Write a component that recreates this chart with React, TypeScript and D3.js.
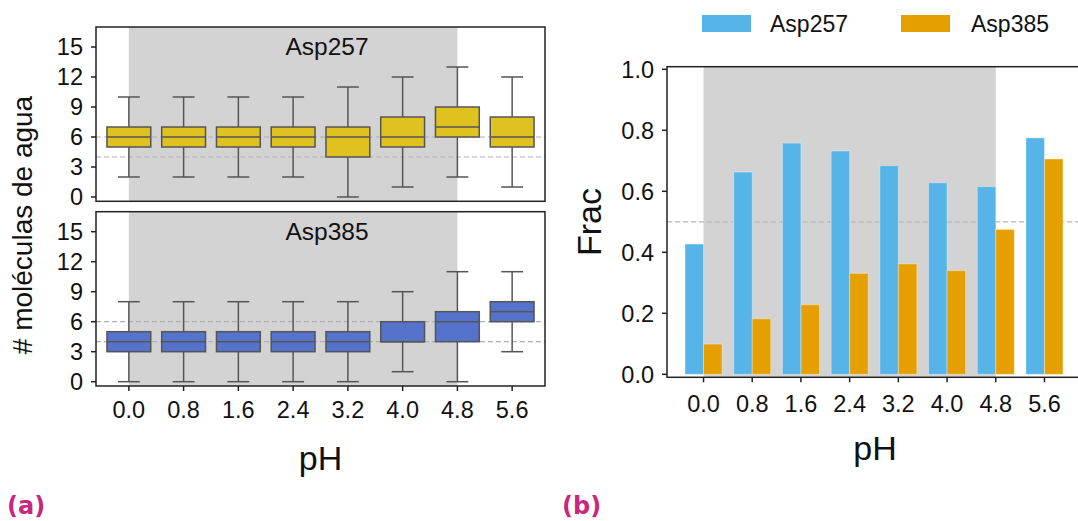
import React from "react";
import * as d3 from "d3";

const categories = ["0.0", "0.8", "1.6", "2.4", "3.2", "4.0", "4.8", "5.6"];

// Box plot stats: [whisker low, q1, median, q3, whisker high]
const asp257Low = [2, 2, 2, 2, 0, 1, 2, 1];
const asp257Q1 = [5, 5, 5, 5, 4, 5, 6, 5];
const asp257Med = [6, 6, 6, 6, 6, 6, 7, 6];
const asp257Q3 = [7, 7, 7, 7, 7, 8, 9, 8];
const asp257High = [10, 10, 10, 10, 11, 12, 13, 12];

const asp385Low = [0, 0, 0, 0, 0, 1, 0, 3];
const asp385Q1 = [3, 3, 3, 3, 3, 4, 4, 6];
const asp385Med = [4, 4, 4, 4, 4, 4, 6, 7];
const asp385Q3 = [5, 5, 5, 5, 5, 6, 7, 8];
const asp385High = [8, 8, 8, 8, 8, 9, 11, 11];

const boxTicks = [0, 3, 6, 9, 12, 15];
const refLines = [4, 6];

// Fraction bars
const fracAsp257 = [0.427, 0.663, 0.758, 0.732, 0.684, 0.628, 0.615, 0.775];
const fracAsp385 = [0.099, 0.182, 0.228, 0.331, 0.362, 0.34, 0.475, 0.706];
const fracTicks = [0, 0.2, 0.4, 0.6, 0.8, 1.0];
const fracRef = 0.5;
const shadeFrom = "0.0";
const shadeTo = "4.8";

const FONT = "'Liberation Sans', Arial, Helvetica, sans-serif";
const YELLOW = "#dfc120";
const BLUE = "#5573cd";
const SKY = "#56b4e9";
const ORANGE = "#e69f00";
const SHADE = "#d3d3d3";
const EDGE = "#555555";
const SPINE = "#222222";
const MAGENTA = "#c92680";

type BoxPanelProps = {
  top: number;
  bottom: number;
  title: string;
  color: string;
  low: number[];
  q1: number[];
  med: number[];
  q3: number[];
  high: number[];
  showX: boolean;
};

const left = 96;
const right = 545;
const xBox = d3.scalePoint<string>().domain(categories).range([left, right]).padding(0.6);

function BoxPanel(p: BoxPanelProps) {
  const y = d3.scaleLinear().domain([-0.43, 17]).range([p.bottom, p.top]);
  const step = xBox.step();
  const bw = step * 0.8;
  const cw = step * 0.4;
  const sx0 = xBox(shadeFrom)!;
  const sx1 = xBox(shadeTo)!;
  return (
    <g>
      <rect x={left} y={p.top} width={right - left} height={p.bottom - p.top} fill="white" />
      <rect x={sx0} y={p.top} width={sx1 - sx0} height={p.bottom - p.top} fill={SHADE} />
      {refLines.map((v) => (
        <line key={v} x1={left} x2={right} y1={y(v)} y2={y(v)} stroke="#b0b0b0" strokeWidth={1.2} strokeDasharray="5,3" />
      ))}
      <text x={327} y={y(14.2)} textAnchor="middle" fontFamily={FONT} fontSize={24.5} fill="#111">
        {p.title}
      </text>
      {categories.map((c, i) => {
        const cx = xBox(c)!;
        return (
          <g key={c}>
            <line x1={cx} x2={cx} y1={y(p.low[i])} y2={y(p.q1[i])} stroke={EDGE} strokeWidth={1.5} />
            <line x1={cx} x2={cx} y1={y(p.q3[i])} y2={y(p.high[i])} stroke={EDGE} strokeWidth={1.5} />
            <line x1={cx - cw / 2} x2={cx + cw / 2} y1={y(p.low[i])} y2={y(p.low[i])} stroke={EDGE} strokeWidth={1.5} />
            <line x1={cx - cw / 2} x2={cx + cw / 2} y1={y(p.high[i])} y2={y(p.high[i])} stroke={EDGE} strokeWidth={1.5} />
            <rect
              x={cx - bw / 2}
              y={y(p.q3[i])}
              width={bw}
              height={y(p.q1[i]) - y(p.q3[i])}
              fill={p.color}
              stroke={EDGE}
              strokeWidth={1.5}
            />
            <line x1={cx - bw / 2} x2={cx + bw / 2} y1={y(p.med[i])} y2={y(p.med[i])} stroke={EDGE} strokeWidth={1.5} />
          </g>
        );
      })}
      <rect x={left} y={p.top} width={right - left} height={p.bottom - p.top} fill="none" stroke={SPINE} strokeWidth={1.5} />
      {boxTicks.map((t) => (
        <g key={t}>
          <line x1={left - 5} x2={left} y1={y(t)} y2={y(t)} stroke={SPINE} strokeWidth={1.5} />
          <text x={left - 13} y={y(t)} dy="0.36em" textAnchor="end" fontFamily={FONT} fontSize={23.5} fill="#111">
            {t}
          </text>
        </g>
      ))}
      {p.showX &&
        categories.map((c) => (
          <g key={c}>
            <line x1={xBox(c)!} x2={xBox(c)!} y1={p.bottom} y2={p.bottom + 5} stroke={SPINE} strokeWidth={1.5} />
            <text x={xBox(c)!} y={418} textAnchor="middle" fontFamily={FONT} fontSize={23.5} fill="#111">
              {c}
            </text>
          </g>
        ))}
    </g>
  );
}

function BarPanel() {
  const l = 667;
  const r = 1081;
  const top = 66.7;
  const bottom = 377.3;
  const x = d3.scalePoint<string>().domain(categories).range([l, r]).padding(0.75);
  const y = d3.scaleLinear().domain([-0.0098, 1.0085]).range([bottom, top]);
  const bw = x.step() * 0.38;
  const sx0 = x(shadeFrom)!;
  const sx1 = x(shadeTo)!;
  return (
    <g>
      <rect x={sx0} y={top} width={sx1 - sx0} height={bottom - top} fill={SHADE} />
      <line x1={l} x2={r} y1={y(fracRef)} y2={y(fracRef)} stroke="#b8b8b8" strokeWidth={1.2} strokeDasharray="5,3" />
      {categories.map((c, i) => (
        <g key={c}>
          <rect x={x(c)! - bw} y={y(fracAsp257[i])} width={bw} height={y(0) - y(fracAsp257[i])} fill={SKY} stroke="#ffffff" strokeOpacity={0.35} strokeWidth={1} />
          <rect x={x(c)!} y={y(fracAsp385[i])} width={bw} height={y(0) - y(fracAsp385[i])} fill={ORANGE} stroke="#ffffff" strokeOpacity={0.35} strokeWidth={1} />
        </g>
      ))}
      <rect x={l} y={top} width={r - l} height={bottom - top} fill="none" stroke={SPINE} strokeWidth={1.5} />
      {fracTicks.map((t) => (
        <g key={t}>
          <line x1={l - 5} x2={l} y1={y(t)} y2={y(t)} stroke={SPINE} strokeWidth={1.5} />
          <text x={l - 13} y={y(t)} dy="0.36em" textAnchor="end" fontFamily={FONT} fontSize={23.5} fill="#111">
            {t.toFixed(1)}
          </text>
        </g>
      ))}
      {categories.map((c) => (
        <g key={c}>
          <line x1={x(c)!} x2={x(c)!} y1={bottom} y2={bottom + 5} stroke={SPINE} strokeWidth={1.5} />
          <text x={x(c)!} y={412} textAnchor="middle" fontFamily={FONT} fontSize={23.5} fill="#111">
            {c}
          </text>
        </g>
      ))}
      <text x={875} y={460} textAnchor="middle" fontFamily={FONT} fontSize={34} fill="#111">
        pH
      </text>
      <text transform={`translate(601,${(top + bottom) / 2}) rotate(-90)`} textAnchor="middle" fontFamily={FONT} fontSize={34} fill="#111">
        Frac
      </text>
      {/* legend */}
      <rect x={702} y={15} width={49} height={17} fill={SKY} />
      <text x={770} y={31.5} fontFamily={FONT} fontSize={23} fill="#111">
        Asp257
      </text>
      <rect x={901} y={15} width={49} height={17} fill={ORANGE} />
      <text x={971} y={31.5} fontFamily={FONT} fontSize={23} fill="#111">
        Asp385
      </text>
    </g>
  );
}

export default function App() {
  return (
    <svg
      width={1078}
      height={521}
      viewBox="0 0 1078 521"
      style={{ position: "absolute", left: 0, top: 0, background: "white" }}
    >
      <rect x={0} y={0} width={1078} height={521} fill="white" />
      <BoxPanel top={27} bottom={201.3} title="Asp257" color={YELLOW} low={asp257Low} q1={asp257Q1} med={asp257Med} q3={asp257Q3} high={asp257High} showX={false} />
      <BoxPanel top={211.7} bottom={386} title="Asp385" color={BLUE} low={asp385Low} q1={asp385Q1} med={asp385Med} q3={asp385Q3} high={asp385High} showX={true} />
      <text transform="translate(32,225) rotate(-90)" textAnchor="middle" fontFamily={FONT} fontSize={28} fill="#111">
        # moléculas de agua
      </text>
      <text x={(left + right) / 2} y={470} textAnchor="middle" fontFamily={FONT} fontSize={34} fill="#111">
        pH
      </text>
      <BarPanel />
      <text x={7} y={514} fontFamily="'DejaVu Sans', sans-serif" fontWeight="bold" fontSize={24} fill={MAGENTA}>
        (a)
      </text>
      <text x={562} y={514} fontFamily="'DejaVu Sans', sans-serif" fontWeight="bold" fontSize={24} fill={MAGENTA}>
        (b)
      </text>
    </svg>
  );
}
